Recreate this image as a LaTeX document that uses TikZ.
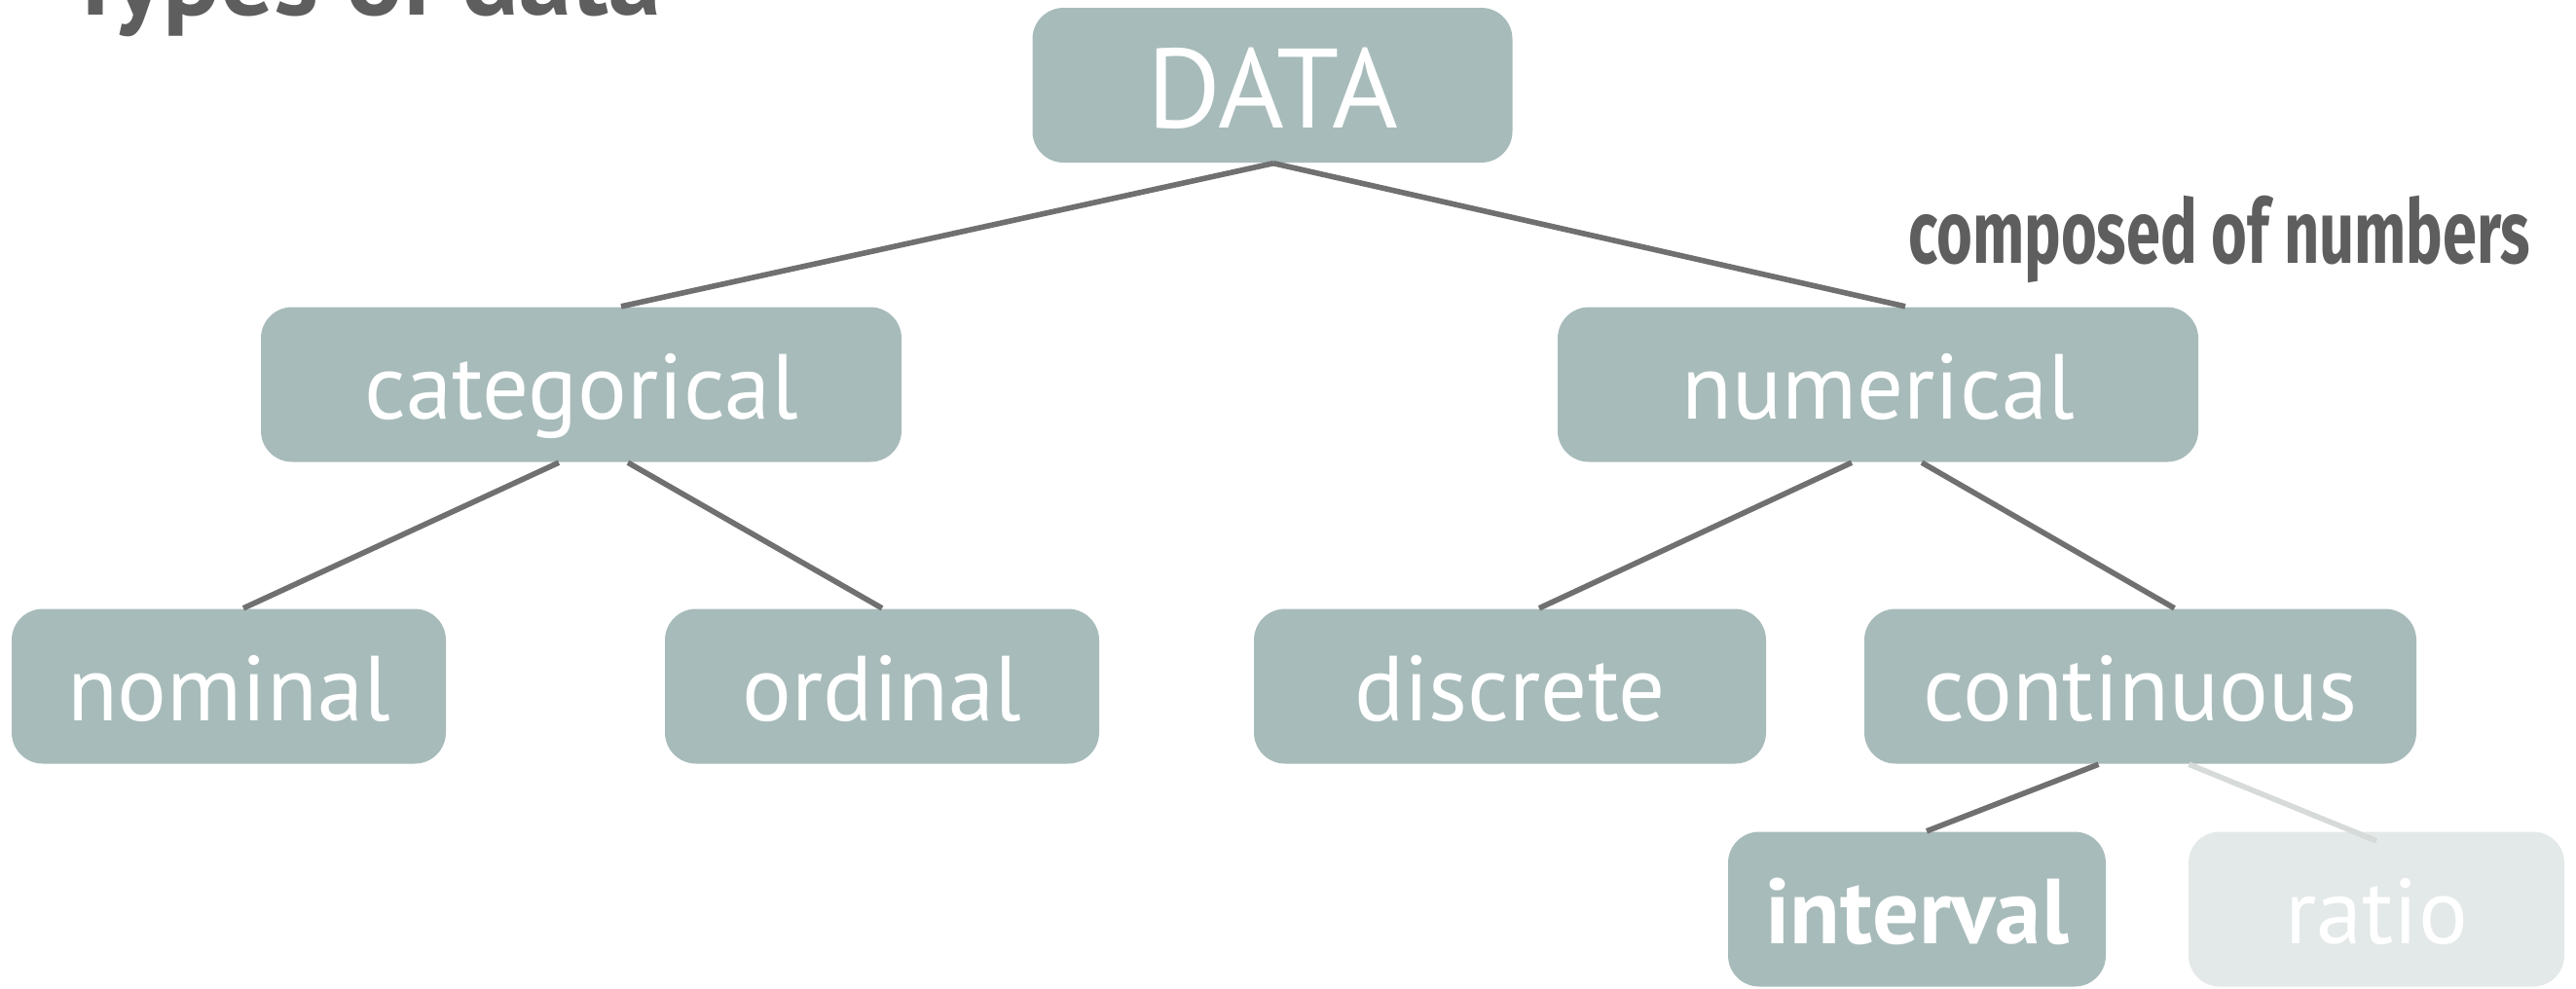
\documentclass[tikz,border=0pt]{standalone}
\usepackage{fontspec}
\setmainfont{PT Sans}
\newfontfamily\handfont[FakeStretch=0.69]{Fira Sans}
\usetikzlibrary{calc}
\definecolor{boxc}{HTML}{A7BBBA}
\definecolor{boxl}{HTML}{E3E9E8}
\definecolor{linec}{HTML}{707070}
\definecolor{linel}{HTML}{D6DAD9}
\definecolor{txtc}{HTML}{5E5E5E}
\begin{document}
\begin{tikzpicture}[yscale=-1,
    box/.style={fill=boxc,text=white,rounded corners=0.32cm,inner sep=0pt,
        minimum height=\h cm,text height=20pt,text depth=0pt,
        font=\fontsize{27}{32}\selectfont},
    edge/.style={draw=linec,line width=1.6pt}]
    \def\h{1.59}%box height
    \useasboundingbox (0,0) rectangle (26.46,10.15);
    \node[anchor=base west,text=txtc,font=\bfseries\fontsize{31}{36}\selectfont] (title) at (0.55,0.15) {Types of data};
    \node[anchor=base west,text=txtc,font=\handfont\bfseries\fontsize{26}{30}\selectfont] (note) at (19.48,2.70) {composed of numbers};
    \node[box,minimum width=4.93cm,text height=25pt,font=\fontsize{33}{38}\selectfont] (data) at (13.07,0.875) {DATA};
    \node[box,minimum width=6.58cm] (cat) at (5.97,3.95) {categorical};
    \node[box,minimum width=6.58cm] (num) at (19.29,3.95) {numerical};
    \node[box,minimum width=4.46cm] (nom) at (2.35,7.05) {nominal};
    \node[box,minimum width=4.46cm] (ord) at (9.06,7.05) {ordinal};
    \node[box,minimum width=5.26cm] (dis) at (15.51,7.05) {discrete};
    \node[box,minimum width=5.67cm] (con) at (21.985,7.05) {continuous};
    \node[box,minimum width=3.88cm,font=\bfseries\fontsize{27}{32}\selectfont] (int) at (19.69,9.34) {interval};
    \node[box,fill=boxl,minimum width=3.86cm] (rat) at (24.41,9.34) {ratio};
    % branches
    \draw[edge] ([xshift=0.01cm]data.south)--([xshift=0.41cm]cat.north);
    \draw[edge] ([xshift=0.01cm]data.south)--([xshift=0.28cm]num.north);
    \draw[edge] ([xshift=-0.23cm]cat.south)--([xshift=0.15cm]nom.north);
    \draw[edge] ([xshift=0.48cm]cat.south)--(ord.north);
    \draw[edge] ([xshift=-0.27cm]num.south)--([xshift=0.30cm]dis.north);
    \draw[edge] ([xshift=0.45cm]num.south)--([xshift=0.35cm]con.north);
    \draw[edge] ([xshift=-0.43cm]con.south)--([xshift=0.10cm]int.north);
    \draw[edge,draw=linel] ([xshift=0.50cm]con.south)--($(rat.north)+(0,0.1)$);
\end{tikzpicture}
\end{document}
